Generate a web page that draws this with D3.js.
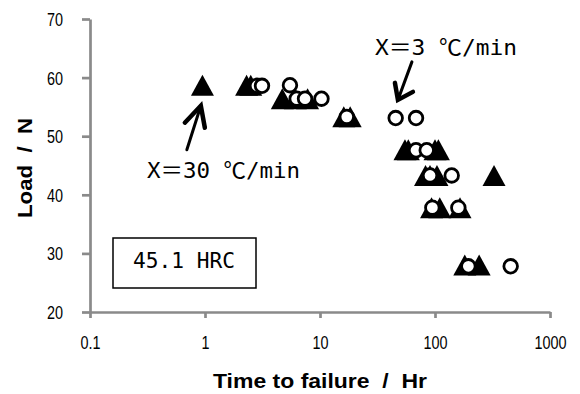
<!DOCTYPE html>
<html>
<head>
<meta charset="utf-8">
<script src="https://cdn.jsdelivr.net/npm/d3@7/dist/d3.min.js"></script>
<style>
  html, body { margin: 0; padding: 0; background: #fff; }
  svg { display: block; }
  text { white-space: pre; }
</style>
</head>
<body>
<svg id="chart" width="580" height="394"></svg>
<script>
// Axis ticks
const timeTicks = [0.1, 1, 10, 100, 1000];
const timeTickLabels = ["0.1", "1", "10", "100", "1000"];
const loadTicks = [20, 30, 40, 50, 60, 70];

// X = 30 °C/min (filled triangles)
const fastTime = [0.95, 2.3, 2.5, 4.7, 6.1, 7.8, 16.1, 18.3, 54.8, 58.6, 100, 107,
                  82.7, 90.5, 104, 326, 93.3, 110, 165, 181.5, 242];
const fastLoad = [58.7, 58.7, 58.7, 56.4, 56.4, 56.4, 53.3, 53.3, 47.7, 47.7, 47.7, 47.7,
                  43.3, 43.3, 43.3, 43.3, 37.8, 37.8, 37.8, 28.0, 28.0];

// X = 3 °C/min (open circles)
const slowTime = [2.83, 3.13, 5.48, 6.27, 7.41, 10.3, 17.1, 45.5, 68.4, 68.4, 84.7,
                  90.5, 139.7, 94.8, 159.6, 195, 455];
const slowLoad = [58.6, 58.6, 58.7, 56.4, 56.4, 56.4, 53.3, 53.1, 53.1, 47.6, 47.6,
                  43.3, 43.3, 37.8, 37.8, 27.8, 27.8];

const fastPoints = fastTime.map((t, i) => ({ t, load: fastLoad[i] }));
const slowPoints = slowTime.map((t, i) => ({ t, load: slowLoad[i] }));

const svg = d3.select("#chart");
const x = d3.scaleLog().domain([0.1, 1000]).range([90, 550]);
const y = d3.scaleLinear().domain([20, 70]).range([312, 19]);

const axisColor = "#8a8a8a";
const tickFont = "'Liberation Sans', Arial, sans-serif";
const monoFont = "'DejaVu Sans Mono', 'Noto Sans CJK JP', monospace";

// Narrow a text element horizontally to a fraction of its natural width
function condense(sel, k) {
  sel.each(function () {
    const w = this.getComputedTextLength();
    d3.select(this).attr("textLength", w * k).attr("lengthAdjust", "spacingAndGlyphs");
  });
}

// Y axis
const gy = svg.append("g")
  .attr("transform", `translate(${x.range()[0]},0)`)
  .call(d3.axisLeft(y).tickValues(loadTicks).tickSize(8).tickSizeOuter(0).tickPadding(19));
// X axis
const gx = svg.append("g")
  .attr("transform", `translate(0,${y.range()[0]})`)
  .call(d3.axisBottom(x).tickValues(timeTicks).tickFormat((d, i) => timeTickLabels[i])
    .tickSize(6).tickSizeOuter(0).tickPadding(18));

[gx, gy].forEach(g => {
  g.select(".domain").attr("stroke", axisColor).attr("stroke-width", 2.7);
  g.selectAll(".tick line").attr("stroke", axisColor).attr("stroke-width", 2.7);
  g.selectAll(".tick text").attr("fill", "#000")
    .style("font-family", tickFont).style("font-size", "18px")
    .call(condense, 0.8);
});
gy.selectAll(".tick text").attr("dy", "0.36em");

// Axis titles
svg.append("text")
  .attr("x", 320).attr("y", 388)
  .attr("text-anchor", "middle")
  .attr("xml:space", "preserve")
  .attr("textLength", 214).attr("lengthAdjust", "spacingAndGlyphs")
  .style("font-family", tickFont).style("font-weight", "bold").style("font-size", "20px")
  .text("Time to failure  /  Hr");

svg.append("text")
  .attr("transform", "translate(32,168) rotate(-90)")
  .attr("text-anchor", "middle")
  .attr("xml:space", "preserve")
  .attr("textLength", 100).attr("lengthAdjust", "spacingAndGlyphs")
  .style("font-family", tickFont).style("font-weight", "bold").style("font-size", "20px")
  .text("Load  /  N");

// Markers: triangles first, circles drawn over them
const triW = 23, triH = 21;
const triPath = `M0,${-triH / 2}L${triW / 2},${triH / 2}L${-triW / 2},${triH / 2}Z`;
svg.append("g").selectAll("path")
  .data(fastPoints)
  .join("path")
  .attr("d", triPath)
  .attr("transform", d => `translate(${x(d.t)},${y(d.load)})`)
  .attr("fill", "#000");

svg.append("g").selectAll("circle")
  .data(slowPoints)
  .join("circle")
  .attr("cx", d => x(d.t))
  .attr("cy", d => y(d.load))
  .attr("r", 6.8)
  .attr("fill", "#fff")
  .attr("stroke", "#000")
  .attr("stroke-width", 2.8);

// Annotation arrows: tip in data units, shape in pixel offsets from the tip
const arrows = [
  { t: 0.92, load: 55.2, tail: [-14, 44], armL: [-16, 17], armR: [4, 22] },
  { t: 47.6, load: 56.2, tail: [14, -38], armL: [-3, -17], armR: [15, -8] }
];
arrows.forEach(a => {
  const tx = x(a.t), ty = y(a.load);
  svg.append("line")
    .attr("x1", tx + a.tail[0]).attr("y1", ty + a.tail[1])
    .attr("x2", tx).attr("y2", ty)
    .attr("stroke", "#000").attr("stroke-width", 3).attr("stroke-linecap", "round");
  svg.append("path")
    .attr("d", `M${tx + a.armL[0]},${ty + a.armL[1]}L${tx},${ty}L${tx + a.armR[0]},${ty + a.armR[1]}`)
    .attr("fill", "none").attr("stroke", "#000").attr("stroke-width", 4.5)
    .attr("stroke-linecap", "round").attr("stroke-linejoin", "miter");
});

// Annotation labels
svg.append("text")
  .attr("x", 147).attr("y", 178)
  .attr("textLength", 153).attr("lengthAdjust", "spacingAndGlyphs")
  .style("font-family", monoFont).style("font-size", "22px")
  .text("X＝30 ℃/min");

svg.append("text")
  .attr("x", 375).attr("y", 55)
  .attr("textLength", 142).attr("lengthAdjust", "spacingAndGlyphs")
  .style("font-family", monoFont).style("font-size", "22px")
  .text("X＝3 ℃/min");

// Hardness box
svg.append("rect")
  .attr("x", 113).attr("y", 238).attr("width", 143).attr("height", 50)
  .attr("fill", "#fff").attr("stroke", "#000").attr("stroke-width", 1.5);
svg.append("text")
  .attr("x", 133).attr("y", 268)
  .attr("textLength", 102).attr("lengthAdjust", "spacingAndGlyphs")
  .style("font-family", monoFont).style("font-size", "21px")
  .text("45.1 HRC");
</script>
</body>
</html>
